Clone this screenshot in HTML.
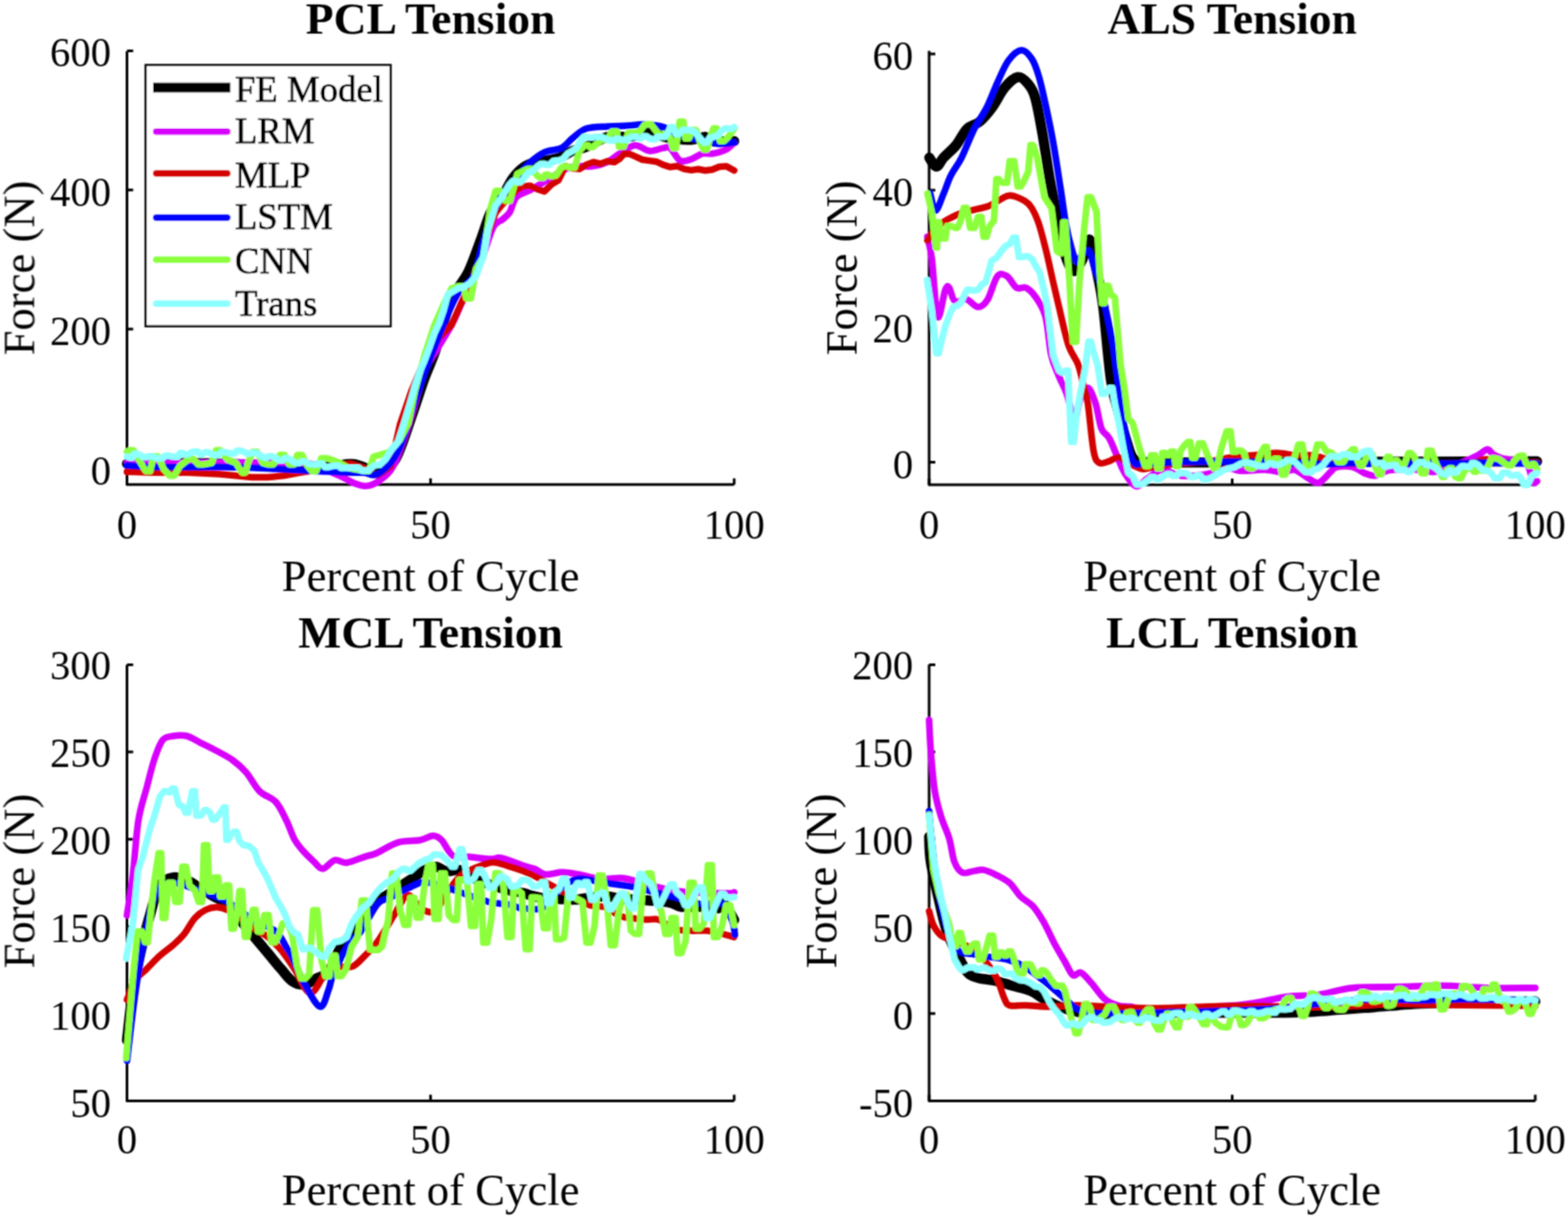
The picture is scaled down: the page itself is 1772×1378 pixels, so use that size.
<!DOCTYPE html><html><head><meta charset="utf-8"><title>Ligament Tension</title><style>html,body{margin:0;padding:0;background:#fff;overflow:hidden}svg{display:block}text{font-family:"Liberation Serif","Times New Roman",serif;fill:#000}</style></head><body>
<svg width="1772" height="1378" viewBox="0 0 1772 1378">
<rect width="1772" height="1378" fill="#fff"/>
<defs><filter id="soft" x="0" y="0" width="1772" height="1378" filterUnits="userSpaceOnUse"><feConvolveMatrix order="3" kernelMatrix="1 2 1 2 4 2 1 2 1" divisor="16" edgeMode="duplicate"/></filter></defs>
<g filter="url(#soft)">
<path d="M143.5,58 L143.5,547.7 L829.7,547.7" fill="none" stroke="#000" stroke-width="3" stroke-linejoin="round"/>
<path d="M143.5,529.2 h7 M143.5,372 h7 M143.5,214.7 h7 M143.5,57.5 h7 M143.5,547.7 v-7 M486.6,547.7 v-7 M829.7,547.7 v-7" stroke="#000" stroke-width="3" fill="none"/>
<g fill="none" stroke-linejoin="round" stroke-linecap="round">
<path d="M143.5,524.2 C154.9,524.1 188.7,523.1 212.2,523.3 C235.7,523.4 263.4,524.5 284.5,525.1 C305.6,525.7 323.6,526.7 338.6,527 C353.7,527.3 364.6,527.4 374.8,527 C385,526.6 391.2,523.7 400,524.7 C408.8,525.7 419.8,533.8 427.6,532.9 C435.4,532 440.6,529.7 446.9,519.1 C453.2,508.5 460.1,484.7 465.5,469.5 C470.9,454.3 475,440.5 479.5,428.1 C484,415.7 488.2,407.9 492.5,395 C496.8,382.1 501.6,362 505.5,351 C509.4,340 511.8,336.3 515.8,328.9 C519.8,321.5 525,316.4 529.6,306.8 C534.2,297.2 539.3,282 543.4,271 C547.5,260 550.7,248 554.4,240.7 C558.1,233.3 561.3,233.3 565.4,226.9 C569.5,220.5 574.6,208.5 579.2,202.1 C583.8,195.7 588.3,191.5 593,188.3 C597.7,185.2 601,184.8 607.4,183.2 C613.8,181.6 624.5,180.6 631.1,178.5 C637.7,176.4 641.6,172.7 646.9,170.6 C652.2,168.5 656.1,168.4 662.7,165.8 C669.3,163.2 678.5,156.6 686.4,154.8 C694.3,153 702.2,155.6 710.1,154.8 C718,154 725.9,149.8 733.8,150 C741.7,150.2 749.6,155 757.5,156.3 C765.4,157.6 774.6,158.2 781.2,157.9 C787.8,157.7 793,154.5 797,154.8 C801,155.1 799.4,158.7 804.9,159.5 C810.4,160.3 825.6,159.5 829.7,159.5" stroke="#000000" stroke-width="11.5"/>
<path d="M143.5,523.3 C176,523.3 301.6,522.1 338.6,523.3 C365.7,524.5 358.2,528.2 365.7,530.6 C373.2,533 377.8,535.1 383.8,537.8 C389.8,540.5 396.9,544.9 401.9,546.8 C406.9,548.7 409.5,549.9 413.8,549.4 C418.1,548.9 422.6,547.6 427.6,543.9 C432.7,540.2 438.6,537.5 444.1,527.4 C449.6,517.3 454.7,501.2 460.7,483.3 C466.7,465.4 474.5,434.6 480,419.9 C485.5,405.2 488.6,403.7 493.7,395 C498.8,386.3 505.2,377.1 510.3,367.5 C515.4,357.9 518.6,349.1 524.1,337.2 C529.6,325.2 537.9,309.1 543.4,295.8 C548.9,282.5 553.1,265.2 557.2,257.2 C561.3,249.2 564.9,250.9 568,248 C571.1,245.1 573.4,244.2 576,240 C578.6,235.8 579.8,226.9 583.7,222.7 C587.6,218.5 594.2,217.7 599.5,214.8 C604.8,211.9 608.7,209.2 615.3,205.3 C621.9,201.4 632.4,194 639,191.1 C645.6,188.2 649.5,188.4 654.8,187.9 C660.1,187.4 665.3,188.7 670.6,187.9 C675.9,187.1 681.1,185.8 686.4,183.2 C691.7,180.6 696.9,175.3 702.2,172.1 C707.5,168.9 712.7,164.4 718,164.2 C723.3,163.9 728.5,170.1 733.8,170.6 C739.1,171.1 745.6,167.9 749.6,167.4 C753.6,166.9 754.3,165 757.5,167.4 C760.7,169.8 764.6,179.5 768.6,181.6 C772.6,183.7 777,181.3 781.2,180 C785.4,178.7 789.8,174.8 793.8,173.7 C797.8,172.6 800.4,174.5 804.9,173.7 C809.4,172.9 816.6,171.1 820.7,169 C824.8,166.9 828.2,162.4 829.7,161.1" stroke="#d800ff" stroke-width="7.5"/>
<path d="M143.5,533.3 L176.1,534.2 L212.2,534.2 L248.4,536 L284.5,539.6 L302.5,539.6 L320.6,537.8 L338.6,534.2 L356.7,531.5 L374.8,527 L396.4,524.2 L410.9,528.8 L421.7,536 L427.6,537 L441.4,527.4 L452,480 L465,442 L479,409 L496.5,381.3 L510.3,367.5 L521.3,342.7 L529.6,326.1 L537.9,304.1 L548.9,271 L559.9,240.7 L567.9,230.6 L575.8,223.6 L583.7,214.8 L591.6,210.5 L599.5,210.1 L607.4,214 L615.3,216.4 L623.2,208.5 L631.1,203.7 L639,187.9 L646.9,190.2 L654.8,191.1 L662.7,186.2 L670.6,183.2 L678.5,185.2 L686.4,182.3 L694.3,183.2 L699.8,179.9 L705.4,173.7 L711.7,174.1 L718,176.9 L725.9,180.5 L733.8,181.6 L741.7,182.7 L749.6,186.4 L757.5,188.8 L765.4,187.8 L773.3,191.1 L781.2,192.4 L789.1,191.2 L797,192.7 L804.9,191.7 L812.8,188.5 L820.7,187.9 L829.7,192.7" stroke="#d40000" stroke-width="7.5"/>
<path d="M143.5,526 C148.9,526.3 158.6,527.6 176.1,527.9 C193.6,528.2 230.3,527.8 248.4,527.9 C266.5,528 272.5,528.3 284.5,528.8 C296.5,529.2 308.6,530 320.6,530.6 C332.6,531.2 344.7,531.8 356.7,532.4 C368.7,533 383.8,533.9 392.8,534.2 C401.8,534.5 405.1,534 410.9,534.2 C416.7,534.5 421.2,539.6 427.6,535.7 C434.1,531.8 443.2,523.3 449.6,510.9 C456,498.5 460.7,477.3 466.2,461.2 C471.7,445.1 477.6,428.1 482.7,414.3 C487.8,400.5 491.9,390 496.5,378.5 C501.1,367 506.2,354.1 510.3,345.4 C514.4,336.7 517.2,331.6 521.3,326.1 C525.4,320.6 531,321 535.1,312.3 C539.2,303.6 542.4,285.6 546.1,273.7 C549.8,261.8 553.1,250.3 557.2,240.7 C561.3,231 565.9,223.2 570.9,215.8 C575.9,208.4 582.7,201.9 587.5,196.5 C592.3,191.1 594.9,187.3 599.5,183.2 C604.1,179.1 609.5,174.7 615.3,172.1 C621.1,169.5 629,170 634.3,167.4 C639.6,164.8 642.2,160 646.9,156.3 C651.6,152.6 656.1,147.5 662.7,145.3 C669.3,143.1 678.5,143.4 686.4,142.9 C694.3,142.4 703,142.5 710.1,142.1 C717.2,141.7 722.5,140.2 729.1,140.5 C735.7,140.8 743.6,141.8 749.6,143.7 C755.6,145.5 760.1,149.5 765.4,151.6 C770.7,153.7 775.9,155 781.2,156.3 C786.5,157.6 791.7,158.4 797,159.5 C802.3,160.6 807.3,162.4 812.8,162.7 C818.2,163 826.9,161.4 829.7,161.1" stroke="#0000ff" stroke-width="7.5"/>
<path d="M143.5,510.7 L147.2,508.9 L150.8,508.9 L158,521.5 L164.5,532.4 L169.7,532.4 L173.5,516.1 L178.7,516.1 L185.1,530.6 L191.6,537.8 L196.8,537.8 L203.2,527 L213.2,518.8 L218.4,518.8 L224.1,525.1 L229.3,525.1 L239.3,523.3 L244.1,508.9 L248.9,508.9 L257.4,519.7 L266.4,523.3 L273.6,534.2 L277.2,534.2 L280.9,521.5 L285.7,510.7 L290.5,510.7 L297.1,523.3 L303.5,525.1 L308.7,525.1 L316.2,514.3 L321.4,514.3 L327,525.1 L332.2,525.1 L336,514.3 L341.2,514.3 L347.7,527 L352.5,532.4 L357.3,532.4 L363.1,517.9 L368.3,517.9 L374.8,519.7 L383.8,523.3 L392.8,528.8 L401.9,530.6 L412,532.4 L417,532.4 L422,516.4 L440,511 L452,497 L461.5,477.8 L468.9,441.9 L480,400.6 L491,367.5 L502,342.7 L510.3,326.1 L518.7,323.4 L523.9,323.4 L527,337.2 L532.2,337.2 L537.9,304.1 L546.1,290.3 L554.4,235.1 L560.1,215.8 L565.3,215.8 L571.1,226.9 L576.3,226.9 L584.7,196.5 L595.9,191 L601.1,191 L607.4,199 L610.9,201.1 L614.4,201.1 L616.2,197.4 L619.7,197.4 L621.4,199 L625,199 L628.5,198.3 L633.7,190.2 L637.2,187.9 L640.8,187.9 L644.3,189.5 L649.5,189.5 L654.8,170.6 L660.9,164.2 L664.6,164.2 L666.4,166.2 L670.1,166.2 L673.8,162.7 L680.1,158.1 L686.4,157.9 L691.7,148.4 L696.9,148.4 L699.6,165.8 L704.8,165.8 L710.1,150 L718,150 L723.3,148.2 L728.5,141 L732,140.5 L735.6,140.5 L741.7,148.4 L745.2,152.3 L748.7,152.3 L750.5,151.3 L754,151.3 L757.5,156.3 L760.6,167.4 L763.8,167.4 L768.1,137.4 L772.3,137.4 L774.4,156.3 L778.6,156.3 L782.3,146.9 L786.5,146.9 L790.7,159.3 L795.1,169 L798.9,169 L802.5,155.7 L806.2,145.3 L810,145.3 L813.7,159.5 L818.3,159.5 L822.9,154.8 L829.7,145.3" stroke="#8cff3c" stroke-width="7.5"/>
<path d="M143.5,516.1 L146.7,517.2 L149.9,517.2 L151.6,513.1 L154.8,513.1 L158,514.3 L162.2,516.8 L165.8,516.8 L168.3,515.7 L171.9,515.7 L176.1,517.9 L180.3,517.9 L183.9,517.9 L186.4,515.2 L190,515.2 L194.2,516.1 L197.8,516.2 L201.4,516.2 L203.2,512.2 L206.8,512.2 L208.6,513.8 L212.2,513.8 L215.8,511.6 L219.9,510.4 L223.5,510.4 L225.8,513.5 L229.4,513.5 L231.6,511.2 L235.2,511.2 L239.3,513.4 L243.5,514.4 L247.1,514.4 L249.6,511 L253.2,511 L257.4,511.6 L261.6,512.7 L265.2,512.7 L267.6,509.4 L271.2,509.4 L275.4,510.7 L279.6,512.8 L283.2,512.8 L285.7,511.7 L289.3,511.7 L293.5,514.3 L297.7,517.2 L301.3,517.2 L303.8,515.7 L307.4,515.7 L311.6,517.9 L315.8,520.5 L319.4,520.5 L321.8,518.1 L325.4,518.1 L329.6,520.6 L334.6,523.5 L338.2,523.5 L341.3,521.8 L344.9,521.8 L349.9,524.7 L354.9,525.1 L358.5,525.1 L360.9,524 L364.5,524 L367,528.1 L370.6,528.1 L374.8,527 L379,526.4 L382.6,526.4 L385,528.9 L388.6,528.9 L392.8,528.8 L400,528.8 L405.5,528.8 L409.2,532.1 L412.8,532.1 L416.5,531.5 L422.9,526.4 L429.4,525.2 L435.8,519.1 L442.7,508 L449.6,499.8 L456.5,478.6 L463.4,455.7 L468.9,436.3 L474.4,419.9 L479.9,407.2 L485.5,392.3 L491,376.6 L496.5,364.7 L501.3,350.7 L506.1,333 L513,328.9 L518.5,325.5 L524.1,324.7 L531,320 L537.9,312.3 L546.1,290.3 L551.6,260 L559.9,232.4 L568.2,221.4 L575.8,208.5 L579.3,204.8 L582.8,204.8 L584.6,206 L588.1,206 L591.6,202.2 L596.9,195.5 L602.1,193.3 L607.4,187.9 L611.5,185.2 L615.1,185.2 L617.5,186.2 L621,186.2 L625.2,182.1 L631.1,181.6 L636.4,179.4 L641.6,173.5 L646.9,170.6 L651.6,167.2 L656.4,158.7 L659.5,154.8 L662.7,154.8 L665.7,155.6 L669.2,155.6 L672,154.8 L675.6,154.8 L680.1,154.8 L686.4,157.9 L689.9,158.9 L693.4,158.9 L695.2,157 L698.7,157 L702.2,157.9 L705.7,158.1 L709.2,158.1 L712.7,155 L716.2,154.8 L719.8,154.8 L721.5,156.2 L725,156.2 L726.8,154 L730.3,154 L733.8,156.3 L737.3,157.4 L740.8,157.4 L742.6,154.7 L746.1,154.7 L748,154.8 L751.2,154.8 L754.4,150.9 L757.5,143.7 L760.7,143.7 L763.6,151.6 L767.2,151.6 L771.5,146.9 L775.1,146.9 L778.8,147 L784.4,148.4 L790.7,155.8 L795.4,161.1 L798.6,161.1 L801.8,156.1 L806.5,154.8 L811.2,153.1 L816,147.4 L819.2,145.3 L822.2,145.3 L823.7,145.6 L826.7,145.6 L829.7,143.7" stroke="#8cffff" stroke-width="7.5"/>
</g>
<text x="125.5" y="547.5" font-size="46" text-anchor="end">0</text>
<text x="125.5" y="390.1" font-size="46" text-anchor="end">200</text>
<text x="125.5" y="232.6" font-size="46" text-anchor="end">400</text>
<text x="125.5" y="75.1" font-size="46" text-anchor="end">600</text>
<text x="143.5" y="609" font-size="46" text-anchor="middle">0</text>
<text x="486.6" y="609" font-size="46" text-anchor="middle">50</text>
<text x="829.7" y="609" font-size="46" text-anchor="middle">100</text>
<text x="486.6" y="668" font-size="50.5" text-anchor="middle">Percent of Cycle</text>
<text transform="translate(38.5,302.9) rotate(-90)" font-size="50.5" text-anchor="middle">Force (N)</text>
<text x="486.6" y="38" font-size="51.5" font-weight="bold" text-anchor="middle">PCL Tension</text>
<path d="M1050,57.6 L1050,548 L1735,548" fill="none" stroke="#000" stroke-width="3" stroke-linejoin="round"/>
<path d="M1050,522.5 h7 M1050,368.7 h7 M1050,214.9 h7 M1050,61.1 h7 M1050,548 v-7 M1392.5,548 v-7 M1735,548 v-7" stroke="#000" stroke-width="3" fill="none"/>
<g fill="none" stroke-linejoin="round" stroke-linecap="round">
<path d="M1050.2,178.2 C1051.5,179.9 1055.6,188.3 1058.3,188.3 C1061,188.3 1062.7,182.2 1066.4,178.2 C1070.1,174.1 1076.2,169.4 1080.6,164 C1085,158.6 1088.4,150.1 1092.8,145.7 C1097.2,141.3 1102.3,141.6 1107.1,137.5 C1111.8,133.4 1116.6,127.7 1121.3,121.3 C1126,114.9 1130.7,104.6 1135.5,98.9 C1140.3,93.2 1145.8,87.9 1150.2,87.2 C1154.6,86.5 1158.6,90.9 1161.9,94.9 C1165.2,98.9 1167.4,101.6 1170.1,111.1 C1172.8,120.6 1175.5,136.6 1178.2,151.8 C1180.9,167.1 1183.6,187.4 1186.3,202.6 C1189,217.8 1191.7,229.6 1194.4,243.2 C1197.1,256.8 1199.5,273.4 1202.6,283.9 C1205.6,294.4 1209.3,304.5 1212.7,306.2 C1216.1,307.9 1219.8,299.9 1222.9,294 C1226.1,288.1 1228.7,268.2 1231.6,270.9 C1234.5,273.6 1237.8,297.4 1240.3,310.1 C1242.8,322.8 1244.3,327.2 1246.8,347.1 C1249.3,367.1 1252.6,409.9 1255.5,429.8 C1258.4,449.8 1261.3,455.2 1264.3,466.8 C1267.3,478.4 1270.5,490.8 1273.4,499.5 C1276.3,508.2 1277.1,515.3 1281.7,519.1 C1286.3,522.9 1281.7,521.9 1301.3,522.5 C1321,523.1 1366.9,522.6 1400,522.5 C1433.1,522.4 1466.7,522.1 1500,522 C1533.3,521.9 1560.5,522.1 1600,522 C1639.5,521.9 1714.2,521.6 1737,521.5" stroke="#000000" stroke-width="11.5"/>
<path d="M1048,267.6 C1048.8,271.8 1051.2,277.6 1053.1,292.7 C1055,307.8 1057.1,352.2 1059.6,358 C1062.1,363.8 1066.1,332.9 1068.3,327.5 C1070.5,322.1 1070.9,323.1 1072.7,325.3 C1074.5,327.5 1075.9,338.4 1079.2,340.6 C1082.5,342.8 1088,337.3 1092.3,338.4 C1096.6,339.5 1101.3,347.1 1105.3,347.1 C1109.3,347.1 1112.6,344.2 1116.2,338.4 C1119.8,332.6 1123.5,316.6 1127.1,312.3 C1130.7,308 1134.4,310.1 1138,312.3 C1141.6,314.5 1145.3,323.1 1148.9,325.3 C1152.5,327.5 1156.1,323.5 1159.7,325.3 C1163.3,327.1 1167,330.8 1170.6,336.2 C1174.2,341.6 1178.6,347.1 1181.5,358 C1184.4,368.9 1185.5,390.2 1188,401.5 C1190.5,412.8 1193.9,418.2 1196.8,425.5 C1199.7,432.8 1202.6,437.1 1205.5,445.1 C1208.4,453.1 1211.7,472.3 1214.2,473.4 C1216.7,474.5 1218.2,457.4 1220.7,451.6 C1223.2,445.8 1226.5,437.8 1229.4,438.5 C1232.3,439.2 1235.5,448.4 1238.1,456 C1240.6,463.6 1242.2,477.8 1244.7,484.3 C1247.2,490.8 1250.5,490 1253.4,495.1 C1256.3,500.2 1259.2,508.2 1262.1,514.7 C1265,521.2 1267.2,528.5 1270.8,534.3 C1274.4,540.1 1279.4,548.5 1283.8,549.6 C1288.2,550.7 1291.9,544 1296.9,540.9 C1301.9,537.8 1307.7,531.5 1313.9,531 C1320.1,530.5 1326.3,536.8 1334.2,537.7 C1342.1,538.6 1352.3,537.8 1361.3,536.4 C1370.3,535 1381.6,530.3 1388.4,529.6 C1395.2,528.9 1395.1,532.1 1401.9,532.3 C1408.7,532.5 1421.1,530.8 1429,531 C1436.9,531.2 1443.6,533.7 1449.3,533.7 C1455,533.7 1458.4,530.1 1462.9,531 C1467.4,531.9 1471.9,536.6 1476.4,539.1 C1480.9,541.6 1485.4,546.7 1489.9,545.8 C1494.4,544.9 1500.1,536.6 1503.5,533.7 C1506.9,530.8 1506.2,529.2 1510.3,528.2 C1514.4,527.2 1522.9,526.7 1528.2,527.8 C1533.5,528.9 1538.1,533.2 1542.3,534.9 C1546.5,536.5 1549.4,538.2 1553.6,537.7 C1557.8,537.2 1562.5,533.3 1567.7,532.1 C1572.9,530.9 1579.5,530.9 1584.7,530.7 C1589.9,530.5 1592.9,530.2 1598.8,530.7 C1604.7,531.2 1613,534 1619.9,533.5 C1626.8,533 1631.8,531.1 1640,528 C1648.2,524.9 1662.5,518.4 1669.3,515.1 C1676.1,511.8 1677.5,508.3 1680.6,508.1 C1683.6,507.9 1684.8,512.1 1687.6,513.7 C1690.4,515.4 1693.5,516.8 1697.5,518 C1701.5,519.2 1706.9,519.6 1711.6,520.8 C1716.3,522 1722.2,521 1725.7,525 C1729.2,529 1730.9,541.6 1732.8,544.8 C1734.7,548 1736.3,544.1 1737,544" stroke="#d800ff" stroke-width="7.5"/>
<path d="M1048.1,271.7 C1050.1,269 1054.9,260.1 1060.3,255.4 C1065.7,250.7 1073.8,246.2 1080.6,243.2 C1087.4,240.1 1094.9,238.8 1101,237.1 C1107.1,235.4 1112.1,235.1 1117.2,233.1 C1122.3,231.1 1127.3,226.9 1131.4,224.9 C1135.5,222.9 1137.2,220.6 1141.6,220.9 C1146,221.2 1153.8,224.6 1157.9,227 C1162,229.4 1163.3,230.7 1166,235.1 C1168.7,239.5 1171.4,245.3 1174.1,253.4 C1176.8,261.5 1179.6,273.1 1182.3,283.9 C1185,294.7 1187.6,307.5 1190,318 C1192.4,328.5 1193.9,335 1196.8,347.1 C1199.7,359.2 1204,379.7 1207.6,390.6 C1211.2,401.5 1215.6,404.4 1218.5,412.4 C1221.4,420.4 1223.3,431.2 1225.1,438.5 C1226.9,445.8 1227.6,444 1229.4,456 C1231.2,468 1233.8,499.2 1236,510.4 C1238.2,521.6 1239.6,521.6 1242.5,523.4 C1245.4,525.2 1249.8,522.4 1253.4,521.3 C1257,520.2 1260.7,516.5 1264.3,516.9 C1267.9,517.2 1270.8,521.2 1275.1,523.4 C1279.4,525.6 1286,529.1 1290.4,530 C1294.8,530.9 1294.7,529.5 1301.3,528.5 C1307.9,527.5 1318.5,525.2 1330,524 C1341.5,522.8 1360.3,522.1 1370,521 C1379.7,519.9 1380.8,518.4 1388.4,517.4 C1396,516.4 1406.4,515.6 1415.4,514.7 C1424.4,513.8 1434.6,512 1442.5,512 C1450.4,512 1456.1,514.2 1462.9,514.7 C1469.7,515.2 1477,514 1483.2,514.7 C1489.4,515.4 1493.9,517.5 1500,519 C1506.1,520.5 1500,522.8 1520,523.5 C1546.7,524.2 1634.2,524.2 1660,523.5 C1675,522.8 1670.3,520.1 1675,519.5 C1679.7,518.9 1683.8,519.4 1688,520 C1692.2,520.6 1691.8,522.5 1700,523 C1708.2,523.5 1730.8,523 1737,523" stroke="#d40000" stroke-width="7.5"/>
<path d="M1051.2,218.8 C1052.2,222 1054.8,238.1 1057.3,238.1 C1059.8,238.1 1063.5,225.4 1066.4,218.8 C1069.3,212.2 1071.1,205.3 1074.5,198.5 C1077.9,191.7 1082.3,187 1086.7,178.2 C1091.1,169.4 1096.2,155.2 1101,145.7 C1105.8,136.2 1110.8,130.1 1115.2,121.3 C1119.6,112.5 1123.3,101.6 1127.4,92.8 C1131.5,84 1135.1,74.4 1139.6,68.4 C1144.1,62.4 1149.9,57 1154.3,56.7 C1158.7,56.4 1162.7,61.4 1166,66.4 C1169.3,71.4 1171.4,77.6 1174.1,86.7 C1176.8,95.8 1179.6,108.8 1182.3,121.3 C1185,133.8 1187.7,146.7 1190.4,161.9 C1193.1,177.1 1196.1,197.4 1198.5,212.7 C1200.9,227.9 1202.6,242.2 1204.6,253.4 C1206.6,264.6 1208.7,272.7 1210.7,279.8 C1212.7,286.9 1214.8,294.6 1216.8,296 C1218.8,297.4 1220.5,289.9 1222.9,287.9 C1225.3,285.9 1228.6,281.2 1231,283.9 C1233.4,286.6 1235.1,298.2 1237.1,304.2 C1239.1,310.2 1241.2,312.9 1243.2,320 C1245.2,327.1 1246.6,335.3 1249,347.1 C1251.4,358.9 1254.8,372.5 1257.7,390.6 C1260.6,408.8 1263.5,436.8 1266.4,456 C1269.3,475.2 1272.5,494.8 1275.1,506 C1277.6,517.2 1279.2,520.3 1281.7,523.4 C1284.2,526.5 1281.7,524.7 1290.4,524.5 C1301.8,524.3 1331.7,522.4 1350,522 C1368.3,521.6 1383.3,521.8 1400,522 C1416.7,522.2 1433.3,522.5 1450,523 C1466.7,523.5 1487,524.7 1500,524.8 C1513,524.9 1520.4,523.7 1528.2,523.6 C1536,523.5 1534.6,524.2 1546.6,524.3 C1558.6,524.4 1585.4,524 1600,524 C1614.6,524 1624.8,524.1 1634,524 C1643.2,523.9 1648.1,523.7 1655.2,523.5 C1662.3,523.3 1662.8,522.9 1676.4,523 C1690,523.1 1726.9,523.8 1737,524" stroke="#0000ff" stroke-width="7.5"/>
<path d="M1048.1,218.8 L1053,240 L1057.6,279.8 L1059,279.8 L1059.6,251.3 L1061,251.3 L1064.4,269.6 L1068.4,269.6 L1070.5,255.4 L1074.5,255.4 L1078.9,257.4 L1082.3,257.4 L1085.7,249 L1089.1,235.1 L1092.5,235.1 L1096.3,257.4 L1101.5,257.4 L1105.1,245.2 L1109.1,245.2 L1111.5,267.6 L1114.9,267.6 L1118.2,256 L1123.3,249.3 L1126,202.6 L1128.8,202.6 L1132.9,206.6 L1138.1,206.6 L1141,182.2 L1146.2,182.2 L1150.1,210.7 L1153.5,210.7 L1156.8,205.4 L1161.9,194.4 L1164.6,164 L1167.4,164 L1172.1,178.2 L1180.2,222.9 L1188.3,235.1 L1194.4,283.9 L1197.8,286.1 L1200.2,286.1 L1201.4,251.3 L1203.8,251.3 L1208.7,320 L1212.4,386.3 L1216,386.3 L1219.7,321.4 L1225.1,260 L1229,222.9 L1233,222.9 L1239.1,239.1 L1242.5,303.5 L1245.4,342.7 L1248.2,342.7 L1249.8,323.1 L1252.7,323.1 L1255.6,333.1 L1259.9,336.2 L1266.4,412.4 L1270.8,439.4 L1275.1,473.4 L1280,478.1 L1288.1,507.9 L1294.1,526.9 L1298.5,526.9 L1300.8,514.7 L1305.2,514.7 L1308,529.6 L1311.6,529.6 L1313.6,512 L1316.8,512 L1318.4,514.3 L1321.5,514.3 L1323.1,510.6 L1326.3,510.6 L1328.7,526.9 L1331.5,526.9 L1334.2,509.3 L1339,502.9 L1342.1,499.8 L1345.3,499.8 L1347.3,517.4 L1350.9,517.4 L1354.9,501.2 L1359.5,501.2 L1364,513.3 L1368.8,524.1 L1371.9,529.6 L1375.1,529.6 L1380.2,506.6 L1386.2,487.6 L1390.6,487.6 L1393.3,510.6 L1396.9,510.6 L1398.7,509.2 L1402.4,509.2 L1406,512 L1410,528.2 L1413.2,529.4 L1416.3,529.4 L1419.5,526.9 L1424.9,512.2 L1428.9,505.2 L1431.7,505.2 L1433,521.5 L1435.8,521.5 L1439.9,518.8 L1445.1,518.8 L1448.9,536.4 L1452.5,536.4 L1456.1,524.2 L1462.8,517.3 L1467.3,502.5 L1471.8,502.5 L1476,526.9 L1479.6,526.9 L1483.2,524.2 L1488.7,502.5 L1493.9,502.5 L1499.4,510.6 L1504,511.5 L1508.5,515.1 L1511.8,522.3 L1515,522.3 L1518.3,522.2 L1523.9,512.3 L1528.2,508.1 L1531,508.1 L1533.8,519.5 L1536.7,526.4 L1539.5,526.4 L1543.8,518.1 L1547.8,513.7 L1551,513.7 L1554.3,528.1 L1557.7,536.3 L1560.9,536.3 L1564.2,524 L1567.7,516.6 L1570.5,516.6 L1571.9,521.8 L1574.8,521.8 L1576.2,520.8 L1579,520.8 L1582.3,525 L1587.1,525 L1591.7,512.3 L1594.5,512.3 L1597.3,514.9 L1601.6,523.6 L1606.3,534.9 L1610.9,534.9 L1613.4,509.5 L1618,509.5 L1622.7,523.6 L1627,532.9 L1629.8,539.1 L1632.6,539.1 L1635.5,530.9 L1638.3,529.3 L1641.1,529.3 L1644.6,538.9 L1647.9,540.5 L1651.1,540.5 L1655.8,531 L1660.6,529.3 L1663.8,529.3 L1665.4,533.2 L1668.5,533.2 L1670.1,529.8 L1673.2,529.8 L1674.8,532.1 L1678,532.1 L1682,526.3 L1685.7,518 L1689.5,518 L1693.9,519.2 L1700.3,523.6 L1704.1,526 L1707.8,526 L1711.6,520.8 L1715.8,515.9 L1718.7,515.1 L1721.5,515.1 L1724.3,523 L1727.2,526.4 L1730,526.4 L1731.4,524.8 L1734.2,524.8 L1737,530.7" stroke="#8cff3c" stroke-width="7.5"/>
<path d="M1047.6,316.6 L1053.1,351.4 L1058.1,399.3 L1061,399.3 L1063.9,385.7 L1068.3,368.9 L1072.7,356.6 L1077,347.1 L1081.3,345.9 L1085.7,342.7 L1090.1,332.8 L1093,327.5 L1095.9,327.5 L1098,328.3 L1101.6,328.3 L1105.3,327.5 L1109.7,321.5 L1114,318.8 L1120.6,294.8 L1126,291.7 L1131.4,284 L1136.5,278 L1141.6,275.5 L1145,268.7 L1148.4,268.7 L1151.4,290.5 L1155,290.5 L1158,289.8 L1161.5,289.8 L1166.3,292.7 L1170.7,301.1 L1175,307.9 L1179.3,326.1 L1183.7,347.1 L1190.2,401.5 L1196.8,418.9 L1199.7,420.9 L1202.6,420.9 L1204,418.9 L1207,418.9 L1210.5,499.5 L1213.5,499.5 L1216.3,470.8 L1220.7,445.1 L1226.2,417.7 L1230.1,386.3 L1233,386.3 L1235.9,398.3 L1240.3,412.4 L1245.3,445.1 L1248.2,445.1 L1251.2,443 L1254,438.5 L1257,438.5 L1259.9,457.2 L1264.3,477.7 L1269.7,507.6 L1275.1,534.3 L1280.5,538.5 L1284.2,547.4 L1287.8,547.4 L1291.5,547 L1296.9,543 L1300.8,539.6 L1304.4,539.6 L1306.4,541.8 L1310,541.8 L1313.9,539.1 L1318.9,536 L1322.5,536 L1325.7,538 L1329.2,538 L1332.4,534.8 L1336,534.8 L1341,535 L1346,539.2 L1349.6,539.2 L1352.7,537.5 L1356.3,537.5 L1359.5,541.8 L1363.1,541.8 L1368,540.6 L1374.8,536.4 L1381.6,532.1 L1388.4,529.6 L1395.2,528.1 L1401.9,524.2 L1406.9,523.1 L1410.5,523.1 L1415.4,524.2 L1422.2,526.8 L1427.2,526.9 L1430.8,526.9 L1434,524 L1437.5,524 L1440.7,525.5 L1444.3,525.5 L1449.3,523.9 L1454.3,520.1 L1457.9,520.1 L1462.8,521.8 L1469.6,528.2 L1475,533.2 L1478.9,533.7 L1482.1,533.7 L1485.2,530.8 L1489.9,529.6 L1495,525.9 L1500,519.4 L1503.8,515.9 L1507.4,515.9 L1509.5,516.4 L1513.1,516.4 L1516.9,513.7 L1520.8,513.7 L1524.4,513.7 L1526.4,516.6 L1530,516.6 L1534.3,516.6 L1540.5,510.9 L1545,509.5 L1548.2,509.5 L1551.5,518.3 L1554.8,523.6 L1558,523.6 L1559.5,523.6 L1562.7,523.6 L1564.2,527.2 L1567.4,527.2 L1570.5,526.4 L1574,525.9 L1577.6,525.9 L1579.3,531.1 L1582.9,531.1 L1584.6,531 L1588.2,531 L1590.1,533.5 L1593.3,533.5 L1596.4,530.6 L1601.1,524.3 L1604.2,522.2 L1607.4,522.2 L1611.4,525.3 L1617.1,526 L1622.7,529.3 L1628.3,534.4 L1632.4,536.3 L1635.6,536.3 L1637.1,532.1 L1640.3,532.1 L1641.8,534.1 L1645,534.1 L1648.1,530.7 L1652,526.9 L1655.6,526.9 L1657.6,527.8 L1661.2,527.8 L1663.4,523.6 L1666.8,523.6 L1670.3,525.5 L1675.4,531 L1680.6,532.1 L1685.5,535.2 L1688.9,540.5 L1692.1,540.5 L1695.2,540.4 L1698.3,534.3 L1701.5,534.3 L1704.6,534.9 L1707.7,537.6 L1710.9,537.6 L1712.4,536.9 L1715.6,536.9 L1718.7,540.5 L1722.5,548.3 L1726.1,548.3 L1731.4,537.7 L1737,534.9" stroke="#8cffff" stroke-width="7.5"/>
</g>
<text x="1032" y="540.9" font-size="46" text-anchor="end">0</text>
<text x="1032" y="386.8" font-size="46" text-anchor="end">20</text>
<text x="1032" y="232.8" font-size="46" text-anchor="end">40</text>
<text x="1032" y="78.7" font-size="46" text-anchor="end">60</text>
<text x="1050" y="609" font-size="46" text-anchor="middle">0</text>
<text x="1392.5" y="609" font-size="46" text-anchor="middle">50</text>
<text x="1735" y="609" font-size="46" text-anchor="middle">100</text>
<text x="1392.5" y="668" font-size="50.5" text-anchor="middle">Percent of Cycle</text>
<text transform="translate(968,302.8) rotate(-90)" font-size="50.5" text-anchor="middle">Force (N)</text>
<text x="1392.5" y="38" font-size="51.5" font-weight="bold" text-anchor="middle">ALS Tension</text>
<path d="M143.5,751.5 L143.5,1244.5 L829.7,1244.5" fill="none" stroke="#000" stroke-width="3" stroke-linejoin="round"/>
<path d="M143.5,1244.5 h7 M143.5,1145.9 h7 M143.5,1047.3 h7 M143.5,948.7 h7 M143.5,850.1 h7 M143.5,751.5 h7 M143.5,1244.5 v-7 M486.6,1244.5 v-7 M829.7,1244.5 v-7" stroke="#000" stroke-width="3" fill="none"/>
<g fill="none" stroke-linejoin="round" stroke-linecap="round">
<path d="M143.5,1176 C144.6,1166.7 147.5,1136.9 150.2,1119.9 C152.8,1102.9 156.3,1087.9 159.4,1074.2 C162.5,1060.5 164.9,1049.9 168.5,1037.7 C172.1,1025.5 176.1,1008.7 180.7,1001.1 C185.3,993.5 190.8,993 195.9,992 C201,991 206.1,993 211.2,995 C216.3,997 221.3,1001.1 226.4,1004.1 C231.5,1007.1 236.5,1010.2 241.6,1013.3 C246.7,1016.3 251.8,1017.8 256.9,1022.4 C262,1027 267,1034.6 272.1,1040.7 C277.2,1046.8 282.2,1052.9 287.3,1059 C292.4,1065.1 297.5,1071.2 302.6,1077.3 C307.7,1083.4 313.2,1090.3 317.8,1095.6 C322.4,1100.9 325.7,1106 330,1108.9 C334.3,1111.8 339.2,1113.5 343.8,1113 C348.4,1112.5 353,1108.6 357.6,1106.1 C362.2,1103.6 366.8,1103.9 371.4,1097.9 C376,1091.9 380.5,1077.7 385.1,1070.3 C389.7,1062.9 393.1,1061.6 398.9,1053.8 C404.6,1046 412.7,1030.7 419.6,1023.4 C426.5,1016.1 432.2,1015.3 440.3,1010 C448.4,1004.7 461.3,996.1 467.9,991.7 C474.5,987.3 475.9,985.5 480,983.5 C484.1,981.5 488.3,979.6 492.4,979.8 C496.5,980 500,984.2 504.8,984.8 C509.6,985.4 515.2,981.9 521,983.5 C526.8,985.1 530.9,991 539.6,994.7 C548.3,998.4 564.4,1003.4 573.1,1005.9 C581.8,1008.4 585.5,1008.1 591.7,1009.6 C597.9,1011.1 601.1,1013.4 610.4,1014.6 C619.7,1015.8 638.3,1017 647.6,1017 C656.9,1017 660,1015.2 666.2,1014.6 C672.4,1014 678.3,1013.1 684.8,1013.3 C691.3,1013.5 694,1015 705.4,1016 C716.8,1017 742.5,1018.1 753.2,1019.6 C763.9,1021.1 763.5,1024.1 769.5,1025 C775.5,1025.9 782.2,1024.7 789.3,1025 C796.4,1025.3 807.1,1027.4 811.9,1026.8 C816.7,1026.2 815.2,1019.2 818.2,1021.4 C821.2,1023.6 827.8,1036.9 829.7,1040" stroke="#000000" stroke-width="11.5"/>
<path d="M143.5,1034.6 C144.6,1027 148.1,1006.7 150.2,988.9 C152.3,971.1 153.8,944.2 156.3,928 C158.9,911.8 162.4,903.1 165.5,891.4 C168.6,879.7 171.5,867 174.6,857.9 C177.7,848.8 180.2,840.9 183.8,836.6 C187.4,832.3 191.3,832.8 195.9,832 C200.5,831.2 206.1,830.7 211.2,832 C216.3,833.3 220.8,836.8 226.4,839.6 C232,842.4 238.6,845.5 244.7,848.8 C250.8,852.1 257.4,855.3 263,859.4 C268.6,863.5 273.1,867.2 278.2,873.1 C283.3,879 287.8,888.9 293.4,894.5 C299,900.1 306.6,901 311.7,906.6 C316.8,912.2 320.3,920.9 323.9,928 C327.4,935.1 329.9,943.7 333,949.3 C336.1,954.9 338.6,957.4 342.2,961.5 C345.8,965.6 350.7,970.3 354.4,973.7 C358.1,977.1 360.5,982.3 364.5,982.1 C368.5,981.9 373.7,973.5 378.3,972.4 C382.9,971.2 386.3,975.9 392,975.2 C397.7,974.5 407.2,970 412.7,968.3 C418.2,966.5 418.6,967.4 424.8,964.7 C431,962 441.4,954.8 449.7,952.3 C458,949.8 467.9,951 474.5,949.8 C481.1,948.5 485.3,944.8 489.4,944.8 C493.5,944.8 495.6,946.1 499.3,949.8 C503,953.5 506.6,964.1 511.7,967.2 C516.8,970.3 522.6,968 529.7,968.6 C536.8,969.2 548.3,970.9 554.5,971.1 C560.7,971.3 560.7,968.6 566.9,969.9 C573.1,971.1 585.5,976.5 591.7,978.6 C597.9,980.7 600,980.6 604.1,982.3 C608.2,983.9 611.4,987.9 616.6,988.5 C621.8,989.1 629,986 635.2,986 C641.4,986 646.6,987.2 653.8,988.5 C661,989.8 670.6,992.8 678.6,993.5 C686.6,994.2 695.6,992.2 701.7,992.5 C707.8,992.8 707.5,993.2 715.3,995.2 C723.1,997.2 739.4,1002.1 748.7,1004.2 C758,1006.3 763.2,1007 771.3,1007.9 C779.4,1008.8 788.3,1009.1 797.3,1009.4 C806.3,1009.7 820,1009.8 825.4,1009.7 C829.7,1009.6 829,1008.9 829.7,1008.8" stroke="#d800ff" stroke-width="7.5"/>
<path d="M143.5,1130 C145.1,1126.3 149.6,1113.4 153.3,1107.7 C157,1102 160.9,1100.2 165.5,1095.6 C170.1,1091 175.6,1084.9 180.7,1080.3 C185.8,1075.7 191.3,1072.2 195.9,1068.1 C200.5,1064 204,1061 208.1,1055.9 C212.2,1050.8 216.2,1042.3 220.3,1037.7 C224.4,1033.1 228.4,1030.5 232.5,1028.5 C236.6,1026.5 240.6,1025.5 244.7,1025.5 C248.8,1025.5 252.3,1026.5 256.9,1028.5 C261.5,1030.5 267,1034.2 272.1,1037.7 C277.2,1041.2 282.2,1046.2 287.3,1049.8 C292.4,1053.3 297.5,1054.9 302.6,1059 C307.7,1063.1 312.7,1068.1 317.8,1074.2 C322.9,1080.3 327.5,1087.5 333,1095.6 C338.5,1103.7 344.8,1122.1 350.7,1122.7 C356.6,1123.3 363.1,1104.2 368.6,1099.3 C374.2,1094.3 378.9,1094.2 384,1093 C389.1,1091.8 394.1,1094.6 398.9,1092.4 C403.7,1090.2 408.1,1084.6 412.7,1080 C417.3,1075.4 421.1,1072.3 426.5,1064.8 C431.9,1057.3 439.5,1043.7 445,1035 C450.5,1026.3 455.4,1014.9 459.6,1012.4 C463.8,1009.9 466.6,1017.1 470,1020 C473.4,1022.9 476.3,1027.9 480,1029.5 C483.7,1031.1 488.3,1032.8 492.4,1029.5 C496.5,1026.2 500,1016.2 504.8,1009.6 C509.6,1003 515.1,994.6 521,989.7 C526.9,984.8 534,982.5 540,980 C546,977.5 551.5,975 557,974.8 C562.5,974.6 567.3,976.9 573.1,978.6 C578.9,980.3 585.5,982.3 591.7,984.8 C597.9,987.3 605.2,990.8 610.4,993.5 C615.6,996.2 617,997.8 622.8,1000.9 C628.6,1004 637.8,1008.3 645,1012 C652.2,1015.7 659.6,1020.9 666.2,1023.2 C672.8,1025.5 678.9,1023.6 684.8,1025.7 C690.7,1027.8 694.1,1033.5 701.7,1035.8 C709.3,1038.1 723.5,1038.9 730.6,1039.5 C737.7,1040.1 738.9,1037.7 744.2,1039.5 C749.5,1041.3 756.2,1048.2 762.2,1050.3 C768.2,1052.4 774.3,1051.8 780.3,1052.1 C786.3,1052.4 792.4,1051.5 798.4,1052.1 C804.4,1052.7 811.2,1054.5 816.4,1055.7 C821.6,1056.9 827.5,1058.7 829.7,1059.3" stroke="#d40000" stroke-width="7.5"/>
<path d="M143.5,1199 C145.1,1185.8 149.6,1144.8 153.3,1119.9 C157,1095 161.4,1068.6 165.5,1049.8 C169.6,1031 172.6,1015.8 177.7,1007.2 C182.8,998.6 187.8,998 195.9,998 C204,998 216.2,1003.6 226.4,1007.2 C236.6,1010.8 246.7,1013.8 256.9,1019.4 C267,1025 278.2,1035.1 287.3,1040.7 C296.4,1046.3 305.6,1047.8 311.7,1052.9 C317.8,1058 320.8,1066.5 323.9,1071.2 C326.9,1075.9 326.7,1074.5 330,1081.3 C333.3,1088 338.5,1102.3 343.8,1111.7 C349.1,1121.1 357.1,1136.8 361.7,1137.9 C366.3,1139.1 368.9,1124.8 371.4,1118.6 C373.9,1112.4 373,1109.3 376.9,1100.6 C380.8,1091.9 389.8,1074 394.8,1066.2 C399.9,1058.4 401.9,1061.2 407.2,1053.8 C412.5,1046.4 421,1028.5 426.5,1022 C432,1015.5 434.6,1018.1 440.3,1015.1 C446.1,1012.1 454.4,1007.1 461,1004.1 C467.6,1001.1 472.7,997.3 480,997.2 C487.3,997.1 492.8,999.7 504.8,1003.4 C516.8,1007.1 540.6,1016.4 552,1019.5 C563.4,1022.6 566.5,1020.8 573.1,1022 C579.7,1023.2 584.9,1026.4 591.7,1027 C598.5,1027.6 607.3,1029.4 614.1,1025.7 C620.9,1022 626.1,1010 632.7,1004.6 C639.3,999.2 647.2,994.9 653.8,993.5 C660.4,992.1 666.4,995.1 672.4,996 C678.4,996.9 683,997.7 690,998.8 C697,999.9 702.4,999.8 714.4,1002.4 C726.4,1005 749.7,1011 762.2,1014.2 C774.7,1017.4 780.3,1020.2 789.3,1021.4 C798.3,1022.6 810.7,1019.9 816.4,1021.4 C822.1,1022.9 821.5,1026.3 823.6,1030.4 C825.7,1034.5 827.9,1041.4 829,1045.8 C830.1,1050.2 830.2,1054.8 830.5,1056.6" stroke="#0000ff" stroke-width="7.5"/>
<path d="M142.6,1196.1 L150.2,1104.7 L155.4,1052.9 L160.4,1052.9 L164,1065.1 L167,1065.1 L170.1,1034.7 L174.6,995 L179.2,964.5 L182.2,964.5 L183.8,1037.7 L186.8,1037.7 L190.4,998 L195.4,998 L198,1019.4 L203,1019.4 L206.1,979.8 L210.1,979.8 L214.2,1001.1 L220.3,1006.5 L224.4,1019.4 L228.4,1019.4 L230.5,955.4 L234.5,955.4 L236.6,1007.2 L240.6,1007.2 L242.7,992 L246.7,992 L248.8,1013.3 L252.8,1013.3 L254.9,1001.1 L258.9,1001.1 L261.5,1049.8 L264.5,1049.8 L267.6,1034.3 L270.6,1007.2 L273.6,1007.2 L276.7,1059 L279.7,1059 L282.8,1039.7 L285.8,1028.5 L288.8,1028.5 L291.4,1052.9 L295.4,1052.9 L298.6,1034.6 L303.6,1034.6 L306.7,1065.1 L310.7,1065.1 L314.8,1057.9 L319.4,1043.8 L322.4,1043.8 L325.4,1044.3 L330,1056.5 L335.6,1091.3 L340.2,1106.1 L344.8,1106.1 L349.4,1101.2 L353.9,1028.9 L358.5,1028.9 L363.1,1084.1 L367.7,1103.4 L372.2,1103.4 L374.5,1080.3 L379.1,1080.3 L381.4,1103.4 L386,1103.4 L390.5,1096.9 L397.4,1070.3 L404.3,1059 L408.8,1017.9 L413.4,1017.9 L418,1073.1 L422.6,1074 L427.1,1074 L431.7,1070.3 L438.6,1040 L443.1,987.6 L447.7,987.6 L452.3,1028.9 L456.9,1045.5 L461.4,1045.5 L463.7,1015.1 L468.3,1015.1 L470.6,1037.2 L475.2,1037.2 L479.7,1001.4 L484.3,977.5 L488.9,977.5 L491.2,1038.8 L495.7,1038.8 L498,987.5 L502.6,987.5 L507.2,1034.4 L511.8,1039.9 L516.3,1039.9 L518.6,994.7 L523.2,994.7 L527.8,996.8 L532.3,1046.8 L536.9,1046.8 L539.2,999.7 L543.8,999.7 L546.1,1065.5 L550.6,1065.5 L555.2,1038.8 L559.8,987.2 L564.4,987.2 L568.9,1001 L573.5,1059.2 L578.1,1059.2 L580.4,1005.9 L585,1005.9 L589.5,1010.1 L594.1,1072.9 L598.7,1072.9 L601,1014.6 L605.5,1014.6 L610.1,1015.2 L614.7,1049.3 L619.3,1049.3 L621.6,1009.6 L626.1,1009.6 L628.4,1061.7 L633,1061.7 L637.6,1059.9 L642.1,1012.2 L646.7,1012.2 L651.3,1015.8 L658.1,1019.2 L662.7,1065.5 L667.3,1065.5 L671.9,1046.8 L676.4,989.7 L681,989.7 L685.6,1017.4 L690.2,1068.5 L694.7,1068.5 L699.3,1031.3 L703.9,1011.2 L708.5,1011.2 L713,1052.1 L717.6,1055.7 L722.2,1055.7 L726.8,997.9 L731.3,987.5 L735.9,987.5 L740.5,1014.2 L747.4,1030.4 L751.9,1055.8 L756.5,1055.8 L758.8,1037.7 L763.4,1037.7 L765.7,1077.4 L770.2,1077.4 L774.8,1063.8 L779.4,997.9 L784,997.9 L786.2,1049.4 L790.8,1049.4 L795.4,1043.6 L800,978.1 L804.5,978.1 L806.8,1059.3 L811.4,1059.3 L816,1046.7 L820.6,1023.2 L825.1,1023.2 L829.7,1045.8" stroke="#8cff3c" stroke-width="7.5"/>
<path d="M142.6,1083.4 L150.2,1043.8 L156.3,982.8 L160.9,969.8 L165.5,952.3 L170.1,934.6 L174.6,921.9 L180.7,900.5 L185.3,894.5 L188.3,894.5 L189.8,895.5 L192.9,895.5 L194.4,891.4 L197.4,891.4 L202,909.7 L206.6,911.4 L209.7,918.8 L212.7,918.8 L217.3,894.5 L220.3,894.5 L221.9,921.9 L224.9,921.9 L227.9,921.3 L231,915.8 L234,915.8 L237.1,918.3 L240.1,926.4 L243.1,926.4 L247.7,920.5 L252.8,912.7 L254.8,912.7 L255.9,949.3 L257.9,949.3 L261.4,942.9 L264.5,940.2 L267.5,940.2 L270.6,950.7 L275.2,955.4 L281.2,956.2 L287.3,961.5 L291.9,974.9 L296.5,982.8 L301.1,990.8 L305.6,1001.1 L311.7,1015.2 L317.8,1025.5 L322.4,1034.7 L327,1046.8 L331.9,1053.7 L336.9,1056.5 L342,1073.1 L345.6,1073.1 L347.5,1071.6 L351.1,1071.6 L354.8,1074.4 L360.3,1078.8 L364,1081.3 L367.6,1081.3 L372.1,1071.7 L378.3,1064.8 L385.1,1063.5 L392,1059.3 L396.9,1045.4 L401.7,1037.2 L410,1026.2 L416.9,1021.1 L423.8,1011 L430.6,1002.9 L437.5,997.2 L444.4,993.6 L451.3,984.8 L455,982.2 L458.6,982.2 L460.6,984.3 L464.2,984.3 L467.9,980.7 L473.9,975.3 L480,972.3 L486.2,970.1 L490.6,966.1 L494.2,966.1 L498.6,966.5 L504.8,972.3 L510.8,979.8 L513.8,979.8 L516.6,971.2 L519.5,959.9 L522.5,959.9 L525.4,976.5 L528.2,995.9 L531.2,995.9 L535.9,992.7 L540.3,983.5 L543.9,983.5 L548.3,990.7 L552.7,1003.4 L556.3,1003.4 L560.7,998.7 L565.1,991 L568.7,991 L573.1,993.6 L577.5,1002.1 L581.1,1002.1 L585.5,1000.4 L589.9,994.7 L593.5,994.7 L597.9,996.1 L602.4,1002.1 L605.8,1002.1 L609.1,1001 L612.4,997.2 L615.8,997.2 L618.5,1020.8 L622.1,1020.8 L626.1,1008.8 L631.9,1005 L635.9,993.5 L639.5,993.5 L643.6,1014.6 L646.6,1014.6 L649.5,1003.6 L652.4,998.4 L655.2,998.4 L656.7,1000.6 L659.6,1000.6 L661,997.2 L664,997.2 L668.2,1017 L671.8,1017 L675.5,1011.8 L679.6,1009.6 L682.6,1009.6 L685.5,1020.3 L688.5,1027.7 L691.5,1027.7 L696.8,1017.5 L701.7,1009.7 L705.3,1009.7 L709.4,1019.5 L713.8,1026.8 L716.8,1026.8 L719.8,1006.4 L722.8,988 L725.8,988 L729.7,994.9 L735.1,998.8 L739.7,1008.8 L742.7,1023.2 L745.7,1023.2 L749.3,1016.3 L754.4,1005.2 L757.8,999.7 L761.2,999.7 L764.9,1009.1 L770.4,1013.8 L774,1023.2 L777.6,1023.2 L781.2,1019.2 L786.6,1008 L790.2,1003.3 L793.8,1003.3 L798.4,1037.7 L802,1037.7 L805.6,1030.2 L811,1017.7 L814.6,1010.6 L818.2,1010.6 L821.2,1014.8 L824.8,1014.8 L829.7,1014.2" stroke="#8cffff" stroke-width="7.5"/>
</g>
<text x="125.5" y="1262.9" font-size="46" text-anchor="end">50</text>
<text x="125.5" y="1163.9" font-size="46" text-anchor="end">100</text>
<text x="125.5" y="1064.9" font-size="46" text-anchor="end">150</text>
<text x="125.5" y="966" font-size="46" text-anchor="end">200</text>
<text x="125.5" y="867" font-size="46" text-anchor="end">250</text>
<text x="125.5" y="768" font-size="46" text-anchor="end">300</text>
<text x="143.5" y="1304" font-size="46" text-anchor="middle">0</text>
<text x="486.6" y="1304" font-size="46" text-anchor="middle">50</text>
<text x="829.7" y="1304" font-size="46" text-anchor="middle">100</text>
<text x="486.6" y="1362" font-size="50.5" text-anchor="middle">Percent of Cycle</text>
<text transform="translate(38.5,996) rotate(-90)" font-size="50.5" text-anchor="middle">Force (N)</text>
<text x="486.6" y="732" font-size="51.5" font-weight="bold" text-anchor="middle">MCL Tension</text>
<path d="M1050,751.3 L1050,1244.4 L1735,1244.4" fill="none" stroke="#000" stroke-width="3" stroke-linejoin="round"/>
<path d="M1050,1244.4 h7 M1050,1145.8 h7 M1050,1047.2 h7 M1050,948.6 h7 M1050,850 h7 M1050,751.4 h7 M1050,1244.4 v-7 M1392.5,1244.4 v-7 M1735,1244.4 v-7" stroke="#000" stroke-width="3" fill="none"/>
<g fill="none" stroke-linejoin="round" stroke-linecap="round">
<path d="M1050,946 C1050.3,950.8 1050.1,962.8 1051.9,974.5 C1053.7,986.2 1057.8,1003.2 1060.8,1016.1 C1063.8,1029 1066.3,1041.4 1069.8,1051.8 C1073.3,1062.2 1077.7,1070.7 1081.7,1078.6 C1085.7,1086.5 1089.6,1094.9 1093.6,1099.4 C1097.6,1103.9 1100.5,1103.9 1105.5,1105.4 C1110.5,1106.9 1116.9,1106.9 1123.3,1108.4 C1129.7,1109.9 1137.1,1112.3 1144.1,1114.3 C1151,1116.3 1159,1117.8 1165,1120.3 C1171,1122.8 1174.3,1126.2 1179.8,1129.2 C1185.2,1132.2 1191.2,1135.6 1197.7,1138.1 C1204.2,1140.6 1210.1,1142.6 1218.5,1144.1 C1226.9,1145.6 1234.7,1146.9 1248.3,1147 C1261.9,1147.1 1266,1145.2 1300,1144.8 C1334,1144.4 1418.5,1145.2 1452.4,1144.8 C1486.3,1144.4 1486.3,1143.3 1503.2,1142.2 C1520.1,1141.1 1537,1139.7 1553.9,1138.4 C1570.8,1137.1 1587.8,1135.4 1604.7,1134.6 C1621.6,1133.8 1633.8,1133.7 1655.5,1133.3 C1677.2,1132.9 1721.8,1132.3 1735,1132.1" stroke="#000000" stroke-width="11.5"/>
<path d="M1050,814 C1050.3,819.9 1050.8,836.1 1051.9,849.5 C1053,862.9 1054.4,881.7 1056.4,894.1 C1058.4,906.5 1061.1,915 1063.8,923.9 C1066.5,932.8 1070.2,939.3 1072.7,947.7 C1075.2,956.1 1076.2,968 1078.7,974.5 C1081.2,981 1084.1,984.7 1087.6,986.4 C1091.1,988.1 1095.5,985.4 1099.5,984.9 C1103.5,984.4 1106.9,982.7 1111.4,983.4 C1115.9,984.1 1121.3,986.8 1126.3,989.3 C1131.3,991.8 1136.7,994.3 1141.2,998.3 C1145.7,1002.3 1148.6,1008.6 1153.1,1013.1 C1157.5,1017.6 1163.5,1020 1167.9,1025 C1172.4,1030 1175.8,1036 1179.8,1042.9 C1183.8,1049.9 1187.7,1059.3 1191.7,1066.7 C1195.7,1074.1 1200.1,1081.5 1203.6,1087.5 C1207.1,1093.5 1209.6,1100.4 1212.6,1102.4 C1215.6,1104.4 1218,1097.9 1221.5,1099.4 C1225,1100.9 1228.9,1106.3 1233.4,1111.3 C1237.9,1116.3 1243.3,1125 1248.3,1129.2 C1253.2,1133.4 1258.1,1135.1 1263.1,1136.6 C1268,1138.1 1271.8,1137.4 1278,1138.1 C1284.2,1138.8 1279.4,1141.3 1300,1140.9 C1320.6,1140.5 1376.2,1138.2 1401.6,1135.9 C1427,1133.6 1437.6,1128.9 1452.4,1127 C1467.2,1125.1 1477.8,1126.1 1490.5,1124.4 C1503.2,1122.7 1513.7,1118.3 1528.5,1116.8 C1543.3,1115.3 1562.4,1116 1579.3,1115.6 C1596.2,1115.2 1613.2,1114.1 1630.1,1114.3 C1647,1114.5 1663.4,1116.4 1680.9,1116.8 C1698.4,1117.2 1726,1116.8 1735,1116.8" stroke="#d800ff" stroke-width="7.5"/>
<path d="M1050,1030 C1050.8,1032.7 1052.6,1041.3 1054.9,1045.9 C1057.2,1050.5 1059.8,1054.8 1063.8,1057.8 C1067.8,1060.8 1072.8,1061.2 1078.7,1063.7 C1084.7,1066.2 1093.5,1068.7 1099.5,1072.7 C1105.5,1076.7 1109.9,1082 1114.4,1087.5 C1118.9,1093 1122.8,1098.5 1126.3,1105.4 C1129.8,1112.4 1132.7,1124 1135.2,1129.2 C1137.7,1134.4 1137.2,1135.4 1141.2,1136.6 C1145.2,1137.8 1151.1,1136.3 1159,1136.6 C1166.9,1136.8 1178.9,1138.1 1188.8,1138.1 C1198.7,1138.1 1200,1136.3 1218.5,1136.6 C1237,1136.9 1269.5,1139.6 1300,1139.7 C1330.5,1139.8 1372,1137.3 1401.6,1137.1 C1431.2,1136.9 1456.6,1138.4 1477.8,1138.4 C1499,1138.4 1511.6,1137.7 1528.5,1137.1 C1545.4,1136.5 1562.4,1134.8 1579.3,1134.6 C1596.2,1134.4 1604.1,1135.5 1630.1,1135.9 C1656,1136.3 1717.5,1136.9 1735,1137.1" stroke="#d40000" stroke-width="7.5"/>
<path d="M1050,917 C1050.3,920.6 1050.6,926.2 1051.9,938.8 C1053.2,951.3 1055.4,975.9 1057.9,992.3 C1060.4,1008.7 1063.8,1025.1 1066.8,1037 C1069.8,1048.9 1072.7,1057.3 1075.7,1063.7 C1078.7,1070.1 1080.6,1073.1 1084.6,1075.6 C1088.6,1078.1 1094,1077.6 1099.5,1078.6 C1105,1079.6 1111,1080.6 1117.4,1081.6 C1123.9,1082.6 1131.3,1082.6 1138.2,1084.6 C1145.1,1086.6 1151.6,1089 1159,1093.5 C1166.4,1098 1175.4,1105.3 1182.8,1111.3 C1190.2,1117.2 1197.6,1124.2 1203.6,1129.2 C1209.5,1134.2 1212,1138.4 1218.5,1141.1 C1225,1143.8 1228.7,1144.9 1242.3,1145.5 C1255.9,1146.1 1269.2,1145.6 1300,1144.8 C1330.8,1144 1393.1,1142.8 1427,1140.9 C1460.9,1139 1482,1135.2 1503.2,1133.3 C1524.4,1131.4 1537,1129.9 1553.9,1129.5 C1570.8,1129.1 1587.8,1130.8 1604.7,1130.8 C1621.6,1130.8 1633.8,1129.5 1655.5,1129.5 C1677.2,1129.5 1721.8,1130.6 1735,1130.8" stroke="#0000ff" stroke-width="7.5"/>
<path d="M1050,921 L1054.9,983.4 L1060.8,1008.9 L1066.8,1028 L1072.8,1045 L1076.7,1069.7 L1080.7,1069.7 L1083.1,1054.8 L1086.1,1054.8 L1089.1,1069 L1092.1,1075.6 L1095.1,1075.6 L1098,1069.2 L1101,1066.7 L1104,1066.7 L1106.4,1084.6 L1110.4,1084.6 L1114.3,1072.7 L1118.3,1057.8 L1122.3,1057.8 L1124.6,1081.6 L1128,1081.6 L1129.6,1076.8 L1132.9,1076.8 L1134.6,1080.1 L1137.9,1080.1 L1139.7,1075.6 L1142.7,1075.6 L1145.7,1083.2 L1150.1,1099.4 L1153.4,1100.4 L1156.7,1100.4 L1158.4,1089.9 L1161.7,1089.9 L1165,1090.5 L1169.5,1099.9 L1172.4,1102.4 L1175.4,1102.4 L1176.9,1097.1 L1179.8,1097.1 L1182.8,1099.4 L1188.8,1108.9 L1193.2,1114.3 L1196.2,1114.3 L1197.7,1114.3 L1200.6,1114.3 L1203.6,1120.3 L1209.6,1147 L1215.3,1167.9 L1218.7,1167.9 L1222.2,1153.6 L1225.9,1135.1 L1228.9,1135.1 L1231.9,1139.4 L1234.9,1153 L1237.9,1153 L1242.3,1151.7 L1248.3,1147 L1252.8,1138.2 L1255.7,1138.1 L1258.7,1138.1 L1263.2,1147.3 L1267.6,1153 L1270.6,1153 L1273.5,1144.6 L1276.5,1144.1 L1279.5,1144.1 L1282.5,1152.7 L1285.5,1156 L1288.5,1156 L1293,1145.6 L1297,1141.1 L1300.8,1141.1 L1304.6,1156.9 L1308.5,1163.8 L1311.9,1163.8 L1315.2,1153.3 L1318.6,1146 L1322,1146 L1325.4,1155.4 L1328.8,1161.3 L1332.2,1161.3 L1333.9,1149 L1337.3,1149 L1338.9,1149.3 L1342.3,1149.3 L1344,1138.4 L1347.4,1138.4 L1350.8,1142.9 L1355.9,1151.1 L1359.8,1157.8 L1363.8,1157.8 L1365.7,1149.7 L1369.7,1149.7 L1373.6,1156.2 L1379.9,1160.6 L1384.6,1161.3 L1388,1161.3 L1391.4,1149.4 L1394.8,1143.5 L1398.2,1143.5 L1402.4,1158.7 L1405.8,1158.7 L1409.2,1156.4 L1414.2,1147.6 L1417.6,1146 L1421,1146 L1423.5,1151 L1427.8,1151 L1432,1148.6 L1437.1,1142.7 L1442.2,1140.9 L1447.3,1140.6 L1452.3,1130.8 L1455.7,1128.2 L1459.1,1128.2 L1462.5,1137.1 L1467.6,1137.4 L1471,1148.6 L1474.4,1148.6 L1477.8,1138.8 L1481.1,1123.2 L1484.5,1123.2 L1487.9,1125.3 L1493,1133.3 L1497,1139.4 L1500.9,1139.4 L1502.9,1135.2 L1506.8,1135.2 L1510.8,1140.9 L1514.7,1141.2 L1518.7,1141.2 L1522.6,1134.2 L1526.5,1133.3 L1530.5,1133.3 L1532.5,1134 L1536.4,1134 L1538.4,1121.7 L1542.3,1121.7 L1546.3,1123.2 L1550.5,1131.9 L1554.8,1131.9 L1559,1130.8 L1562.4,1128.7 L1565.8,1128.7 L1567.4,1136.9 L1570.8,1136.9 L1574.2,1135.9 L1579.8,1118.1 L1584,1118.1 L1588.2,1120.4 L1594.6,1128.2 L1598.8,1128.3 L1603.1,1128.3 L1607.3,1120.6 L1610.7,1114.2 L1614.1,1114.2 L1615.7,1117.4 L1619.1,1117.4 L1620.8,1113 L1624.2,1113 L1628,1140.9 L1632.2,1140.9 L1636.4,1129.7 L1640.8,1123.2 L1644.8,1123.2 L1646.8,1123.4 L1650.7,1123.4 L1652.7,1114.8 L1656.6,1114.8 L1660.6,1115.6 L1666.9,1125 L1671.6,1125.7 L1675,1125.7 L1676.7,1118.2 L1680.1,1118.2 L1681.7,1118.8 L1685.1,1118.8 L1686.8,1113 L1690.2,1113 L1696.1,1130.8 L1701.2,1132.8 L1704.6,1143.5 L1708,1143.5 L1712.7,1140.2 L1717.3,1130.8 L1720.7,1130.8 L1724.1,1135.1 L1727.5,1146 L1730.9,1146 L1735,1135.9" stroke="#8cff3c" stroke-width="7.5"/>
<path d="M1050,922 L1054.9,968.5 L1059.3,993.5 L1063.8,1016.1 L1068.2,1035.6 L1072.7,1057.8 L1078.7,1084.6 L1083.2,1092.4 L1086.1,1096.4 L1089.1,1096.4 L1093.5,1093.7 L1097.7,1093.5 L1101.3,1093.5 L1103.7,1095.8 L1107.3,1095.8 L1109.6,1094 L1113.2,1094 L1117.4,1096.4 L1120.7,1097.3 L1124,1097.3 L1125.6,1095.1 L1128.9,1095.1 L1132.2,1096.4 L1135.5,1100.9 L1138.8,1100.9 L1140.5,1100.7 L1143.8,1100.7 L1147.1,1105.4 L1153.1,1108.1 L1159,1108.3 L1165,1111.3 L1169.9,1115 L1174.9,1115.6 L1179.8,1120.3 L1185.8,1132.3 L1191.7,1141.1 L1196.7,1146.4 L1201.6,1154.9 L1204.9,1158.9 L1208.3,1158.9 L1210.8,1156.9 L1214.3,1156.9 L1216.8,1158.9 L1220.2,1158.9 L1223.5,1157.4 L1228.4,1151.5 L1231.7,1150 L1235.1,1150 L1238.4,1152.8 L1243.3,1153.4 L1246.6,1156 L1250,1156 L1254.2,1155.3 L1260.2,1151.3 L1264.3,1150 L1267.9,1150 L1270.3,1151.9 L1273.9,1151.9 L1276.2,1151.1 L1279.8,1151.1 L1284,1153 L1287.6,1153 L1291.1,1153 L1292.9,1150.5 L1296.4,1150.5 L1300,1151.1 L1305.1,1153.6 L1308.5,1153.6 L1311.9,1153.6 L1313.6,1149.3 L1317,1149.3 L1318.6,1149.9 L1322,1149.9 L1325.4,1146 L1330,1145.2 L1333.5,1145.2 L1336.3,1148.6 L1339.9,1148.6 L1342.7,1146.4 L1346.2,1146.4 L1350.8,1148.6 L1355.4,1149.2 L1359,1149.2 L1361.7,1146.3 L1365.3,1146.3 L1368,1148.6 L1371.6,1148.6 L1376.2,1146 L1380.8,1143.4 L1384.3,1143.4 L1387.1,1146.5 L1390.7,1146.5 L1393.5,1142.5 L1397,1142.5 L1401.6,1143.5 L1406.1,1144.9 L1409.7,1144.9 L1412.5,1143.2 L1416.1,1143.2 L1418.9,1145.5 L1422.5,1145.5 L1427,1144.8 L1431.5,1143.1 L1435.1,1143.1 L1437.9,1144.5 L1441.5,1144.5 L1444.3,1140.7 L1447.9,1140.7 L1450.6,1140.9 L1454.2,1140.9 L1458.8,1140.2 L1463.3,1134.7 L1466.9,1134.7 L1469.7,1135.3 L1473.2,1135.3 L1477.8,1130.8 L1482.4,1127.7 L1486,1127.7 L1490.5,1128.2 L1495,1129.8 L1498.6,1129.8 L1501.4,1129.3 L1505,1129.3 L1507.7,1133 L1511.3,1133 L1515.8,1132.1 L1520.4,1129.9 L1524,1129.9 L1526.7,1132.1 L1530.3,1132.1 L1533,1128 L1536.6,1128 L1541.2,1128.2 L1545.8,1128.5 L1549.3,1128.5 L1552.1,1125.9 L1555.7,1125.9 L1558.5,1128.6 L1562,1128.6 L1564.8,1125.6 L1568.4,1125.6 L1571.2,1126.8 L1574.8,1126.8 L1579.3,1125.7 L1583.9,1125 L1587.5,1125 L1590.2,1128.3 L1593.8,1128.3 L1596.5,1125 L1600.1,1125 L1602.9,1127 L1606.5,1127 L1611,1126.8 L1615.6,1124.2 L1619.2,1124.2 L1622,1124.9 L1625.5,1124.9 L1630.1,1123.2 L1634.6,1123.1 L1638.2,1123.1 L1641,1126.2 L1644.6,1126.2 L1647.4,1124.2 L1651,1124.2 L1655.5,1125.7 L1660,1127.7 L1663.6,1127.7 L1666.4,1125.7 L1670,1125.7 L1672.8,1128.4 L1676.4,1128.4 L1680.9,1128.2 L1685.5,1127.2 L1689,1127.2 L1691.8,1130.3 L1695.4,1130.3 L1698.2,1128.6 L1701.8,1128.6 L1706.3,1130.8 L1710.2,1131.6 L1713.8,1131.6 L1716,1129.6 L1719.6,1129.6 L1721.7,1131.7 L1725.3,1131.7 L1727.5,1129.8 L1731.1,1129.8 L1735,1130.8" stroke="#8cffff" stroke-width="7.5"/>
</g>
<text x="1032" y="1262.9" font-size="46" text-anchor="end">-50</text>
<text x="1032" y="1163.9" font-size="46" text-anchor="end">0</text>
<text x="1032" y="1064.9" font-size="46" text-anchor="end">50</text>
<text x="1032" y="966" font-size="46" text-anchor="end">100</text>
<text x="1032" y="867" font-size="46" text-anchor="end">150</text>
<text x="1032" y="768" font-size="46" text-anchor="end">200</text>
<text x="1050" y="1304" font-size="46" text-anchor="middle">0</text>
<text x="1392.5" y="1304" font-size="46" text-anchor="middle">50</text>
<text x="1735" y="1304" font-size="46" text-anchor="middle">100</text>
<text x="1392.5" y="1362" font-size="50.5" text-anchor="middle">Percent of Cycle</text>
<text transform="translate(945,995.9) rotate(-90)" font-size="50.5" text-anchor="middle">Force (N)</text>
<text x="1392.5" y="732" font-size="51.5" font-weight="bold" text-anchor="middle">LCL Tension</text>
<rect x="164.6" y="73.5" width="276.8" height="295.3" fill="#fff" stroke="#000" stroke-width="2.5"/>
<line x1="173" y1="99" x2="260.3" y2="99" stroke="#000" stroke-width="11"/>
<text x="265.5" y="115" font-size="41.5" stroke="#000" stroke-width="0.7">FE Model</text>
<line x1="176.5" y1="148.75" x2="256.8" y2="148.75" stroke="#d800ff" stroke-width="7.5" stroke-linecap="round"/>
<text x="265.5" y="162.4" font-size="41.5" stroke="#000" stroke-width="0.7">LRM</text>
<line x1="176.5" y1="196.1" x2="256.8" y2="196.1" stroke="#d40000" stroke-width="7.5" stroke-linecap="round"/>
<text x="265.5" y="212" font-size="41.5" stroke="#000" stroke-width="0.7">MLP</text>
<line x1="176.5" y1="245.95" x2="256.8" y2="245.95" stroke="#0000ff" stroke-width="7.5" stroke-linecap="round"/>
<text x="265.5" y="259.4" font-size="41.5" stroke="#000" stroke-width="0.7">LSTM</text>
<line x1="176.5" y1="293.4" x2="256.8" y2="293.4" stroke="#8cff3c" stroke-width="7.5" stroke-linecap="round"/>
<text x="265.5" y="309.1" font-size="41.5" stroke="#000" stroke-width="0.7">CNN</text>
<line x1="176.5" y1="343.15" x2="256.8" y2="343.15" stroke="#8cffff" stroke-width="7.5" stroke-linecap="round"/>
<text x="265.5" y="357.1" font-size="41.5" stroke="#000" stroke-width="0.7">Trans</text>
</g></svg></body></html>
